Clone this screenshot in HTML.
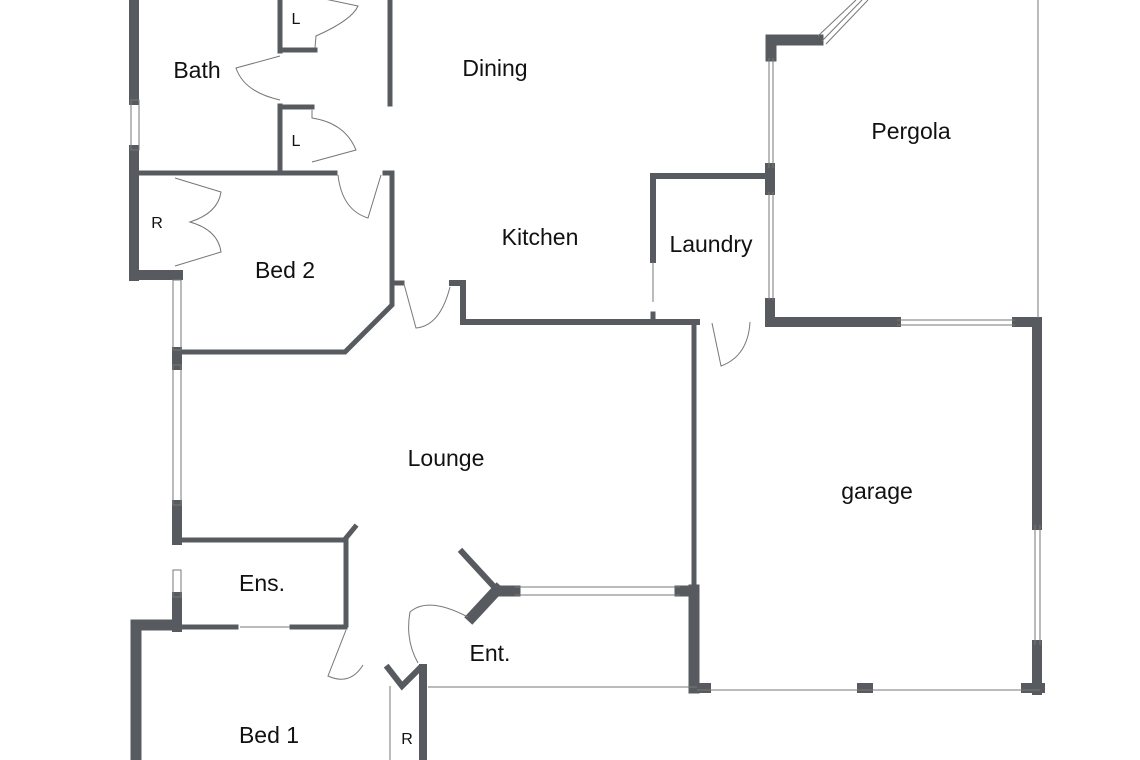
<!DOCTYPE html>
<html><head><style>
html,body{margin:0;padding:0;background:#fff;}
svg{display:block}
text{font-family:"Liberation Sans",sans-serif;fill:#111;}
</style></head><body>
<svg width="1140" height="760" viewBox="0 0 1140 760" xmlns="http://www.w3.org/2000/svg">
<g stroke="#575b5f" fill="none" stroke-linecap="square">
<line x1="134" y1="0" x2="134" y2="100" stroke-width="10"/>
<line x1="134" y1="150" x2="134" y2="276" stroke-width="10"/>
<line x1="134" y1="275" x2="178" y2="275" stroke-width="10"/>
<line x1="140" y1="173" x2="335" y2="173" stroke-width="5"/>
<line x1="280" y1="0" x2="280" y2="51" stroke-width="5"/>
<line x1="280" y1="50" x2="315" y2="50" stroke-width="5"/>
<line x1="280" y1="106" x2="280" y2="172" stroke-width="5"/>
<line x1="280" y1="107" x2="312" y2="107" stroke-width="5"/>
<line x1="390" y1="0" x2="390" y2="104" stroke-width="5"/>
<polyline points="385,173 392,173 392,305 345,352 180,352" stroke-width="5"/>
<line x1="177" y1="352" x2="177" y2="365" stroke-width="10"/>
<line x1="177" y1="505" x2="177" y2="540" stroke-width="10"/>
<line x1="177" y1="597" x2="177" y2="627" stroke-width="10"/>
<line x1="392" y1="283" x2="402" y2="283" stroke-width="5"/>
<polyline points="452,283 463,283 463,322 697,322" stroke-width="6"/>
<polyline points="653,260 653,176 770,176" stroke-width="6"/>
<line x1="770" y1="168" x2="770" y2="190" stroke-width="10"/>
<line x1="770" y1="303" x2="770" y2="322" stroke-width="10"/>
<line x1="653" y1="314" x2="653" y2="320" stroke-width="5"/>
<polyline points="771,56 771,40 818,40" stroke-width="11"/>
<line x1="770" y1="322" x2="896" y2="322" stroke-width="10"/>
<polyline points="1017,322 1037,322 1037,525" stroke-width="10"/>
<line x1="1037" y1="645" x2="1037" y2="690" stroke-width="10"/>
<line x1="694" y1="322" x2="694" y2="585" stroke-width="5"/>
<line x1="694" y1="590" x2="694" y2="688" stroke-width="11"/>
<line x1="695" y1="688" x2="706" y2="688" stroke-width="10"/>
<line x1="862" y1="688" x2="868" y2="688" stroke-width="10"/>
<line x1="1026" y1="688" x2="1040" y2="688" stroke-width="10"/>
<polyline points="180,540 346,540 346,625" stroke-width="5"/>
<line x1="346" y1="538" x2="355" y2="527" stroke-width="5"/>
<line x1="180" y1="627" x2="236" y2="627" stroke-width="5"/>
<line x1="292" y1="627" x2="345" y2="627" stroke-width="5"/>
<polyline points="176,625 136,625 136,760" stroke-width="11"/>
<line x1="462" y1="552" x2="497" y2="590" stroke-width="6"/>
<line x1="497" y1="590" x2="472" y2="617" stroke-width="11"/>
<line x1="497" y1="591" x2="515" y2="591" stroke-width="11"/>
<line x1="680" y1="591" x2="694" y2="591" stroke-width="11"/>
<polyline points="388,668 402,686 420,668" stroke-width="6"/>
<line x1="423" y1="668" x2="423" y2="760" stroke-width="8"/>
</g>
<g stroke="#777" fill="none" stroke-width="1">
<rect x="131" y="100" width="8" height="50"/>
<rect x="173" y="280" width="8" height="70"/>
<rect x="173" y="365" width="8" height="140"/>
<rect x="173" y="570" width="8" height="27"/>
<line x1="773" y1="58" x2="773" y2="168"/><line x1="769" y1="58" x2="769" y2="168"/>
<line x1="773" y1="192" x2="773" y2="300"/><line x1="769" y1="192" x2="769" y2="300"/>
<line x1="897" y1="320" x2="1015" y2="320"/><line x1="897" y1="325" x2="1015" y2="325"/>
<line x1="1035" y1="525" x2="1035" y2="645"/><line x1="1040" y1="525" x2="1040" y2="645"/>
<line x1="515" y1="587" x2="680" y2="587"/><line x1="515" y1="595" x2="680" y2="595"/>
<line x1="818" y1="36" x2="856" y2="0"/><line x1="822" y1="41" x2="862" y2="0"/><line x1="826" y1="44" x2="868" y2="0"/>
<line x1="1038" y1="0" x2="1038" y2="318"/>
<line x1="428" y1="687" x2="697" y2="687"/>
<line x1="697" y1="690" x2="1040" y2="690"/>
<line x1="390" y1="686" x2="390" y2="760"/>
<line x1="653" y1="262" x2="653" y2="302"/>
<line x1="240" y1="627" x2="290" y2="627"/>
<path d="M315,48 L316,36 Q352,20 358,6 L320,-2"/>
<path d="M280,56 L236,68 Q244,92 280,100"/>
<path d="M312,110 L312,118 Q345,123 356,150 L312,162"/>
<path d="M338,175 Q342,210 368,218 L381,175"/>
<path d="M175,178 L221,192 Q218,213 190,222 Q218,230 221,252 L175,266"/>
<path d="M404,284 L416,328 Q440,326 450,287"/>
<path d="M712,323 L721,366 Q748,356 750,322"/>
<path d="M346,630 L328,676 Q350,686 363,665"/>
<path d="M418,663 Q405,640 410,612 Q428,596 468,617"/>
</g>
<g font-size="23">
<text x="197" y="78" text-anchor="middle">Bath</text>
<text x="495" y="76" text-anchor="middle">Dining</text>
<text x="911" y="139" text-anchor="middle">Pergola</text>
<text x="540" y="245" text-anchor="middle">Kitchen</text>
<text x="711" y="252" text-anchor="middle">Laundry</text>
<text x="285" y="278" text-anchor="middle">Bed 2</text>
<text x="446" y="466" text-anchor="middle">Lounge</text>
<text x="877" y="499" text-anchor="middle">garage</text>
<text x="262" y="591" text-anchor="middle">Ens.</text>
<text x="490" y="661" text-anchor="middle">Ent.</text>
<text x="269" y="743" text-anchor="middle">Bed 1</text>
</g>
<g font-size="16">
<text x="157" y="228" text-anchor="middle">R</text>
<text x="296" y="24" text-anchor="middle">L</text>
<text x="296" y="146" text-anchor="middle">L</text>
<text x="407" y="744" text-anchor="middle">R</text>
</g>
</svg>
</body></html>
